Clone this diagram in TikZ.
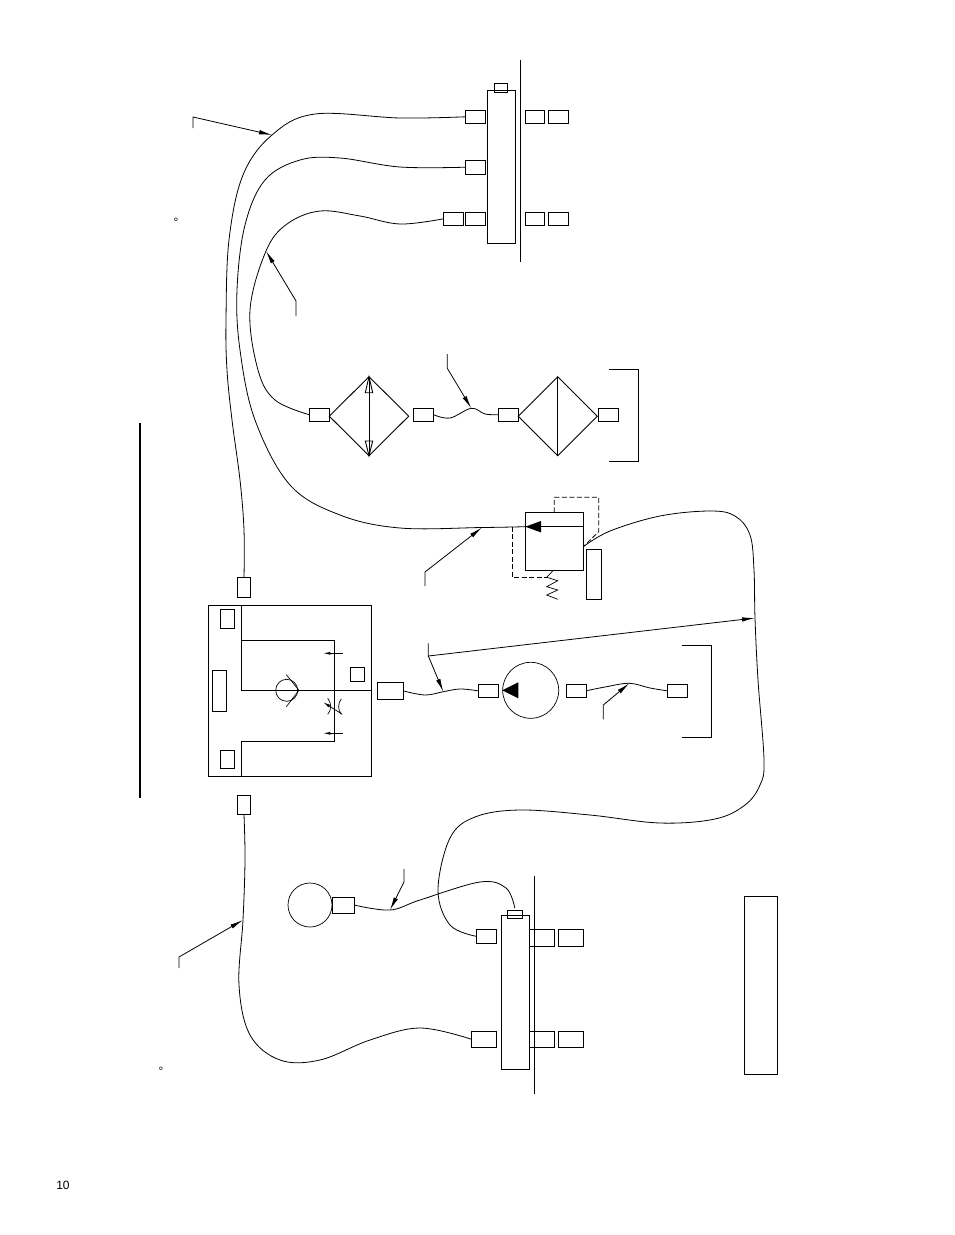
\documentclass[tikz,border=0pt]{standalone}
\usepackage{fontspec}
\setmainfont{Liberation Sans}
\newfontfamily\labelfont{Liberation Sans}
\usetikzlibrary{arrows.meta,shapes.geometric}
\tikzset{
  portbox/.style={draw,rectangle,inner sep=0pt,outer sep=0pt,line width=0.9pt,minimum width=20pt,minimum height=13pt},
  hose/.style={line width=0.8pt,line join=round},
  leader/.style={line width=0.8pt,-{Latex[length=13pt,width=4.5pt]}},
  pilot/.style={line width=0.8pt,dash pattern=on 5pt off 2.5pt},
  thin line/.style={line width=0.7pt}
}
\begin{document}
\begin{tikzpicture}[x=1pt,y=-1pt,line width=0.9pt]
  \useasboundingbox (0,0) rectangle (954,1235);
  % upper manifold
  \draw (520.3,60) -- (520.3,262);
  \node[portbox,minimum width=28pt,minimum height=153pt] (mantop) at (501.3,166.6) {};
  \node[portbox,minimum width=13.5pt,minimum height=9pt] (plugtop) at (501,87.8) {};
  \node[portbox] (t1) at (475.5,116.8) {};
  \node[portbox,minimum height=14.5pt] (t2) at (475.5,167.2) {};
  \node[portbox] (t3) at (475.5,218.8) {};
  \node[portbox] (t4) at (453.5,218.8) {};
  \node[portbox,minimum width=19.5pt] (t5) at (535,116.8) {};
  \node[portbox] (t6) at (558.3,116.8) {};
  \node[portbox,minimum width=19.5pt] (t7) at (535,218.8) {};
  \node[portbox] (t8) at (558.3,218.8) {};
  \node at (176,222) {\labelfont\fontsize{12}{14}\selectfont °};
  % filters
  \node[portbox] (c1) at (319.3,414.7) {};
  \node[draw,diamond,inner sep=0pt,outer sep=0pt,minimum width=79.4pt,minimum height=79pt] (dryer) at (369,416.2) {};
  \draw (dryer.north) -- (dryer.south);
  \draw (dryer.north) -- (365.3,392.7) -- (372.7,392.7) -- cycle;
  \draw (dryer.south) -- (365.3,441) -- (372.7,441) -- cycle;
  \node[portbox] (c2) at (423.5,414.7) {};
  \node[portbox] (c3) at (508.3,414.7) {};
  \node[draw,diamond,inner sep=0pt,outer sep=0pt,minimum width=79pt,minimum height=79pt] (cooler) at (557.8,416.2) {};
  \draw (cooler.north) -- (cooler.south);
  \node[portbox] (c4) at (608.3,414.7) {};
  \draw (609.3,369.3) -- (638.3,369.3) -- (638.3,461.3) -- (609.3,461.3);
  % regulator
  \node[portbox,minimum width=58pt,minimum height=58pt] (reg) at (554.3,541.3) {};
  \draw (reg.west |- 0,526.7) coordinate (regin) -- (reg.east |- 0,526.7);
  \fill (regin) -- (541,521) -- (541,532.4) -- cycle;
  \node[portbox,minimum width=15pt,minimum height=50pt] (regbar) at (593.8,574.3) {};
  \draw[pilot] (reg.north) -- (554.3,497.3) -- (598.7,497.3) -- (598.7,531.7) -- (reg.east |- 0,546.7);
  \draw[pilot] (512.3,526.7) -- (512.3,577.3) -- (546.7,577.3);
  \draw[thin line] (546.7,577.3) -- (553.3,570.3);
  \draw[thin line] (546.7,577.3) -- (557.7,580.7) -- (546.7,586.7) -- (557.7,590) -- (546.7,595) -- (557.7,599.3);
  % valve block
  \draw[line width=2pt] (140,423) -- (140,798);
  \node[portbox,minimum width=163.4pt,minimum height=171pt] (block) at (290,690.8) {};
  \node[portbox,minimum width=13.4pt,minimum height=20.4pt] (vtop) at (244,587.5) {};
  \node[portbox,minimum width=13.4pt,minimum height=19.4pt] (vbot) at (244,805) {};
  \node[portbox,minimum width=14.4pt,minimum height=19.4pt] (b1) at (227.5,619) {};
  \node[portbox,minimum width=14.4pt,minimum height=18.4pt] (b2) at (227.5,759.5) {};
  \node[portbox,minimum width=14.4pt,minimum height=41.4pt] (b3) at (219.5,691) {};
  \node[portbox,minimum width=14.4pt,minimum height=14.4pt] (b4) at (357.5,674.5) {};
  \node[portbox,minimum width=25.6pt,minimum height=17pt] (vout) at (390.2,690.8) {};
  \draw (241.3,605.3) -- (241.3,640.3) -- (334.3,640.3) -- (334.3,741.3) -- (241.3,741.3) -- (241.3,776.3);
  \draw (241.3,640.3) -- (241.3,690.3) -- (block.east |- 0,690.3);
  \node[draw,circle,thin line,inner sep=0pt,minimum size=22pt] (chk) at (286.7,690.3) {};
  \draw[thin line] (286.3,674.7) -- (299,690.3) -- (286.3,706.7);
  \draw[thin line,-{Latex[length=7pt,width=3pt]}] (343,653.3) -- (323.3,653.3);
  \draw[thin line,-{Latex[length=7pt,width=3pt]}] (343,733.3) -- (323.3,733.3);
  \draw[thin line] (327.7,698.3) .. controls (331.7,703) and (331.7,710) .. (327.7,714.3);
  \draw[thin line] (341.3,699) .. controls (337.7,703) and (337.7,710) .. (341.3,714.3);
  \draw[thin line,-{Latex[length=7pt,width=3pt]}] (342.3,714.3) -- (323.3,702.3);
  % pump line
  \node[portbox] (p1) at (488,690.8) {};
  \node[draw,circle,thin line,inner sep=0pt,minimum size=56pt] (pump) at (530.7,690.3) {};
  \fill (pump.west) -- (518.3,682.3) -- (518.3,698.3) -- cycle;
  \node[portbox] (p2) at (576,690.8) {};
  \node[portbox] (p3) at (677.3,690.8) {};
  \draw (682,645) -- (711.3,645) -- (711.3,737.3) -- (682,737.3);
  % lower manifold
  \draw (534.7,875.7) -- (534.7,1094.3);
  \node[portbox,minimum width=28pt,minimum height=154pt] (manbot) at (515.3,992.3) {};
  \node[portbox,minimum width=15pt,minimum height=8pt] (plugbot) at (514.8,914.3) {};
  \node[portbox,minimum height=14pt] (l1) at (486.3,936.3) {};
  \node[portbox,minimum width=25pt,minimum height=16.4pt] (l2) at (483.8,1039.2) {};
  \node[portbox,minimum width=25pt,minimum height=17pt] (l3) at (542.2,937.8) {};
  \node[portbox,minimum width=25.4pt,minimum height=17pt] (l4) at (571,937.8) {};
  \node[portbox,minimum width=25pt,minimum height=16.4pt] (l5) at (542.2,1039.2) {};
  \node[portbox,minimum width=25.4pt,minimum height=16.4pt] (l6) at (571,1039.2) {};
  \node[draw,circle,thin line,inner sep=0pt,minimum size=44pt] (tank) at (310,905) {};
  \node[portbox,minimum width=22pt,minimum height=16pt] (t0) at (343,905) {};
  \node[portbox,minimum width=33pt,minimum height=178pt] (tbl) at (760.7,985) {};
  \node at (161,1071) {\labelfont\fontsize{12}{14}\selectfont °};
  \node at (63,1185) {\labelfont\fontsize{12}{14}\selectfont 10};
  % hoses
  \coordinate (hA) at (272,135);
  \coordinate (hB) at (266,251);
  \coordinate (hC) at (482,527.5);
  \coordinate (hD) at (471.3,408.3);
  \coordinate (hE) at (443.3,691.7);
  \coordinate (hF) at (629.3,683.3);
  \coordinate (hG) at (755,618);
  \coordinate (hH) at (243,920);
  \coordinate (hI) at (390,910);
  \draw[hose] plot[smooth,tension=0.6] coordinates {(vtop.north) (244,530) (240,480) (232,420) (227,370) (226,320) (229,240) (243,175) (hA) (315,114) (400,118) (t1.west)};
  \draw[hose] plot[smooth,tension=0.6] coordinates {(t2.west) (400,167) (340,158) (300,160) (265,180) (245,225) (237,290) (240,350) (255,420) (290,485) (340,515) (400,528) (hC) (regin)};
  \draw[hose] plot[smooth,tension=0.6] coordinates {(t4.west) (400,224) (360,216) (320,211) (287,224) (hB) (250,310) (258,370) (275,400) (c1.west)};
  \draw[hose] plot[smooth,tension=0.6] coordinates {(c2.east) (450,418) (hD) (485,414) (c3.west)};
  \draw[hose] plot[smooth,tension=0.6] coordinates {(reg.east |- 0,546.7) (610,531) (660,516) (710,511) (735,516) (750,535) (754,570) (hG) (758,680) (764,760) (760,785) (745,805) (715,819) (660,823) (590,815) (520,810) (475,817) (450,838) (438,890) (450,925) (l1.west)};
  \draw[hose] plot[smooth,tension=0.6] coordinates {(vout.east) (425,695) (hE) (460,689) (p1.west)};
  \draw[hose] plot[smooth,tension=0.6] coordinates {(p2.east) (605,687) (hF) (650,688) (p3.west)};
  \draw[hose] plot[smooth,tension=0.6] coordinates {(vbot.south) (245,860) (hH) (239,985) (250,1035) (280,1060) (320,1060) (370,1040) (420,1028) (l2.west)};
  \draw[hose] plot[smooth,tension=0.6] coordinates {(t0.east) (hI) (420,900) (480,882) (506,888) (514.8,908)};
  % leaders
  \coordinate (a1) at (193,128);
  \coordinate (a2) at (296,316);
  \coordinate (a3) at (425,586);
  \coordinate (a4) at (447.3,354);
  \coordinate (a5) at (428.3,643.3);
  \coordinate (a6) at (603.3,719.3);
  \coordinate (a7) at (179,968);
  \coordinate (a8) at (404,869);
  \draw[leader] (a1) -- (193,117) -- (hA);
  \draw[leader] (a2) -- (296,301) -- (hB);
  \draw[leader] (a3) -- (425,572) -- (hC);
  \draw[leader] (a4) -- (447.3,368.3) -- (hD);
  \draw[leader] (a5) -- (428.3,656) -- (hE);
  \draw[leader] (428.3,656) -- (hG);
  \draw[leader] (a6) -- (603.3,705) -- (hF);
  \draw[leader] (a7) -- (179,957) -- (hH);
  \draw[leader] (a8) -- (404,882) -- (hI);
\end{tikzpicture}
\end{document}
